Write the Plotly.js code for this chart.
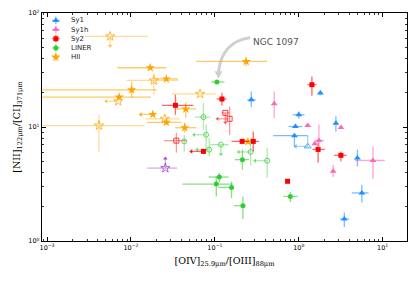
<!DOCTYPE html>
<html><head><meta charset="utf-8">
<script src="https://cdn.plot.ly/plotly-3.0.1.min.js"></script>
<style>html,body{margin:0;padding:0;background:#fff}#chart{width:415px;height:282px}</style>
</head><body><div id="chart"></div>
<script>
// ---------------- DATA ----------------
const categories = ['Sy1', 'Sy1h', 'Sy2', 'LINER', 'HII'];

// Sy1 (filled)
const sy1X   = [0.272, 1.81, 1.00, 0.912, 0.888, 2.77, 5.00, 5.65, 3.49];
const sy1Y   = [17.3, 19.9, 12.8, 10.1, 8.39, 10.8, 5.35, 2.64, 1.56];
const sy1XLo = [0.243, 1.72, 0.847, 0.758, 0.496, null, 4.85, 4.28, 3.09];
const sy1XHi = [0.307, 1.90, 1.17, 1.10, 1.28, null, 5.20, 6.78, 3.97];
const sy1YLo = [15.0, 19.0, 11.8, null, 6.76, 9.15, 4.51, 2.18, 1.33];
const sy1YHi = [20.5, 20.8, 13.7, null, null, 12.4, 6.33, 3.12, 1.78];
// Sy1 (open, limits)
const sy1oX   = [1.28];
const sy1oY   = [6.76];
const sy1oLim = ['<'];
const sy1oYLo = [null];
const sy1oYHi = [8.39];

// Sy1h
const sy1hX   = [0.510, 1.28, 3.18, 1.74, 1.55, 2.57, 7.66];
const sy1hY   = [16.0, 10.3, 9.9, 7.63, 7.14, 4.09, 5.09];
const sy1hXLo = [null, null, null, 1.55, null, null, 4.69];
const sy1hXHi = [null, null, null, 2.00, null, null, 10.6];
const sy1hYLo = [12.0, null, null, 6.58, null, 3.64, 3.50];
const sy1hYHi = [20.5, null, null, 10.5, null, 4.67, 6.76];

// Sy2 (filled)
const sy2X   = [0.0339, 0.1215, 0.0731, 0.2115, 0.287, 1.435, 1.70, 3.18, 0.736];
const sy2Y   = [15.5, 17.6, 6.11, 7.48, 7.48, 23.5, 6.36, 5.64, 3.34];
const sy2Lim = ['', '', '<', '', '', '', '', '', ''];
const sy2XLo = [0.0234, 0.105, null, 0.158, null, 1.27, 1.46, 2.64, null];
const sy2XHi = [0.0554, 0.138, null, 0.255, 0.336, 1.62, 2.04, 3.72, null];
const sy2YLo = [12.8, 15.4, null, null, 6.11, 18.8, 4.86, 4.99, null];
const sy2YHi = [19.2, 20.0, null, null, 9.15, 27.8, 7.28, 6.11, null];
// Sy2 (open)
const sy2oX   = [0.1334, 0.150, 0.0348];
const sy2oY   = [13.3, 11.8, 7.59];
const sy2oLim = ['v', '<', ''];
const sy2oXLo = [0.120, null, 0.0248];
const sy2oXHi = [0.148, null, 0.046];
const sy2oYLo = [null, 8.55, 5.96];
const sy2oYHi = [null, 15.1, 8.9];

// LINER (filled)
const linX   = [0.1057, 0.213, 0.113, 0.104, 0.158, 0.216, 0.794];
const linY   = [24.8, 5.17, 3.64, 3.16, 2.95, 2.04, 2.46];
const linXLo = [0.0905, 0.173, 0.084, 0.0411, 0.109, 0.168, 0.654];
const linXHi = [0.130, 0.255, 0.146, 0.163, 0.168, 0.232, 0.972];
const linYLo = [null, 4.22, 3.27, 2.46, 2.38, 1.56, 2.20];
const linYHi = [null, 6.33, 3.94, 3.69, 3.33, 2.46, 2.69];
// LINER (open)
const linoX   = [0.0731, 0.0788, 0.0432, 0.0857, 0.118, 0.267, 0.420];
const linoY   = [12.2, 8.55, 7.48, 6.33, 7.0, 6.04, 5.06];
const linoLim = ['', '<', '', '<', 'v', '<', '<'];
const linoXLo = [0.058, null, null, null, 0.088, null, null];
const linoXHi = [0.088, null, null, null, 0.146, null, null];
const linoYLo = [9.47, 6.0, 6.11, 5.5, null, 4.58, 3.59];
const linoYHi = [16.2, 10.5, 8.55, 8.0, null, 8.06, 6.58];

// HII (filled)
const hiiX   = [0.0170, 0.0264, 0.0102, 0.00725, 0.01825, 0.0264, 0.0450, 0.0438, 0.236, 0.248];
const hiiY   = [33.1, 26.4, 21.2, 18.3, 12.9, 11.0, 14.4, 9.86, 37.6, 7.43];
const hiiLim = ['', '', '', '', '<', '', '', '', '', ''];
const hiiXLo = [0.0069, 0.0193, 0.0007, 0.0007, null, 0.0155, 0.035, 0.0336, 0.060, null];
const hiiXHi = [0.0262, 0.0365, 0.0204, 0.0173, null, 0.040, 0.060, 0.0602, 0.42, null];
const hiiYLo = [null, null, 18.1, null, null, null, 12.0, 8.9, 34.0, null];
const hiiYHi = [null, null, 24.9, null, null, null, 16.5, 10.9, 41.0, null];
// HII (open)
const hiioX   = [0.00565, 0.01876, 0.00705, 0.00416, 0.0253, 0.0667];
const hiioY   = [62.4, 25.6, 16.8, 10.3, 11.8, 19.5];
const hiioLim = ['v', '', '<', '', '', ''];
const hiioXLo = [0.00284, 0.00888, null, 0.0007, 0.0150, 0.0309];
const hiioXHi = [0.0159, 0.0365, null, 0.0142, 0.038, 0.102];
const hiioYLo = [null, 19.2, null, 5.96, null, null];
const hiioYHi = [null, 29.9, null, 12.8, null, null];

// Unclassified (purple)
const othX   = [0.0257];
const othY   = [4.36];
const othLim = ['^'];
const othXLo = [0.0156];
const othXHi = [0.0355];

const xTickVals = [0.001, 0.01, 0.1, 1, 10];
const xTickText = ['10<sup>−3</sup>', '10<sup>−2</sup>', '10<sup>−1</sup>', '10<sup>0</sup>', '10<sup>1</sup>'];
const yTickVals = [1, 10, 100];
const yTickText = ['10<sup>0</sup>', '10<sup>1</sup>', '10<sup>2</sup>'];

// ---------------- STYLE ----------------
const X_RANGE = [-3.06, 1.29], Y_RANGE = [0, 2];
const COL = {Sy1:'30,144,255', Sy1h:'255,105,180', Sy2:'255,0,0', LINER:'50,205,50', HII:'255,165,0', other:'153,50,204'};
const SYM = {Sy1:'triangle-up', Sy1h:'triangle-up', Sy2:'square', LINER:'circle', HII:'star', other:'star'};
const SIZE = {Sy1:6, Sy1h:6, Sy2:5, LINER:5, HII:7, other:7};
const ARROW_X = 0.145, ARROW_Y = 0.085;  // arrow length in decades

function tipOf(v, l, axis) {
  if (axis === 'x' && l === '<') return v * Math.pow(10, -ARROW_X);
  if (axis === 'y' && l === 'v') return v * Math.pow(10, -ARROW_Y);
  if (axis === 'y' && l === '^') return v * Math.pow(10, ARROW_Y);
  return null;
}
function errs(v, lo, hi, lim, axis) {
  const plus = v.map((x, i) => {
    const t = lim ? tipOf(x, lim[i], axis) : null;
    if (t != null && t > x) return t - x;
    return (hi && hi[i] != null) ? hi[i] - x : 0;
  });
  const minus = v.map((x, i) => {
    const t = lim ? tipOf(x, lim[i], axis) : null;
    if (t != null && t < x) return x - t;
    return (lo && lo[i] != null) ? x - lo[i] : 0;
  });
  return {plus, minus};
}
function trace(cat, open, x, y, xlo, xhi, ylo, yhi, lim, colOverride) {
  const c = colOverride || COL[cat];
  const ex = errs(x, xlo, xhi, lim, 'x'), ey = errs(y, ylo, yhi, lim, 'y');
  const barA = open ? 0.4 : 0.6;
  return {
    type: 'scatter', mode: 'markers', x, y, showlegend: false, hoverinfo: 'skip',
    marker: {symbol: SYM[cat] + (open ? '-open' : ''), size: SIZE[cat],
      color: `rgba(${c},${open ? 0.75 : 1})`, line: {width: open ? 1 : 0, color: `rgba(${c},${open ? 0.75 : 1})`}},
    error_x: {type: 'data', symmetric: false, array: ex.plus, arrayminus: ex.minus, color: `rgba(${c},${barA})`, thickness: 1.3, width: 0},
    error_y: {type: 'data', symmetric: false, array: ey.plus, arrayminus: ey.minus, color: `rgba(${c},${barA})`, thickness: 1.3, width: 0}
  };
}
function heads(cat, open, x, y, lim, colOverride) {
  const c = colOverride || COL[cat];
  const hx = [], hy = [], sym = [];
  x.forEach((v, i) => {
    const l = lim[i]; if (!l) return;
    const tx = tipOf(v, l, 'x'), ty = tipOf(y[i], l, 'y');
    hx.push(tx != null ? tx : v); hy.push(ty != null ? ty : y[i]);
    sym.push(l === '<' ? 'triangle-left' : (l === 'v' ? 'triangle-down' : 'triangle-up'));
  });
  return {type: 'scatter', mode: 'markers', x: hx, y: hy, showlegend: false, hoverinfo: 'skip',
    marker: {symbol: sym, size: 4, color: `rgba(${c},${open ? 0.6 : 0.9})`, line: {width: 0}}};
}

const PURPLE = COL.other;
const data = [
  trace('HII', true, hiioX, hiioY, hiioXLo, hiioXHi, hiioYLo, hiioYHi, hiioLim),
  heads('HII', true, hiioX, hiioY, hiioLim),
  trace('HII', false, hiiX, hiiY, hiiXLo, hiiXHi, hiiYLo, hiiYHi, hiiLim),
  heads('HII', false, hiiX, hiiY, hiiLim),
  trace('LINER', true, linoX, linoY, linoXLo, linoXHi, linoYLo, linoYHi, linoLim),
  heads('LINER', true, linoX, linoY, linoLim),
  trace('LINER', false, linX, linY, linXLo, linXHi, linYLo, linYHi, null),
  trace('other', true, othX, othY, othXLo, othXHi, null, null, othLim, PURPLE),
  heads('other', false, othX, othY, othLim, PURPLE),
  trace('Sy2', true, sy2oX, sy2oY, sy2oXLo, sy2oXHi, sy2oYLo, sy2oYHi, sy2oLim),
  heads('Sy2', true, sy2oX, sy2oY, sy2oLim),
  trace('Sy2', false, sy2X, sy2Y, sy2XLo, sy2XHi, sy2YLo, sy2YHi, sy2Lim),
  heads('Sy2', false, sy2X, sy2Y, sy2Lim),
  trace('Sy1h', false, sy1hX, sy1hY, sy1hXLo, sy1hXHi, sy1hYLo, sy1hYHi, null),
  trace('Sy1', true, sy1oX, sy1oY, null, null, sy1oYLo, sy1oYHi, sy1oLim),
  heads('Sy1', true, sy1oX, sy1oY, sy1oLim),
  trace('Sy1', false, sy1X, sy1Y, sy1XLo, sy1XHi, sy1YLo, sy1YHi, null)
];

const annotations = [];
// manual legend, placed in plot-fraction units converted through the axis ranges
const LEG_X = 0.038, LEG_Y0 = 0.9675, LEG_DY = 0.0402, LEG_EX = 0.011, LEG_EY = 0.017;
const fx = f => Math.pow(10, X_RANGE[0] + f * (X_RANGE[1] - X_RANGE[0]));
const fy = f => Math.pow(10, Y_RANGE[0] + f * (Y_RANGE[1] - Y_RANGE[0]));
categories.forEach((cat, i) => {
  const c = COL[cat];
  const yf = LEG_Y0 - i * LEG_DY;
  const x0 = fx(LEG_X), y0 = fy(yf);
  data.push({type: 'scatter', mode: 'markers', x: [x0], y: [y0],
    showlegend: false, hoverinfo: 'skip',
    marker: {symbol: SYM[cat], size: SIZE[cat], color: `rgb(${c})`},
    error_x: {type: 'data', symmetric: false, array: [fx(LEG_X + LEG_EX) - x0], arrayminus: [x0 - fx(LEG_X - LEG_EX)], color: `rgba(${c},0.6)`, thickness: 1.2, width: 0},
    error_y: {type: 'data', symmetric: false, array: [fy(yf + LEG_EY) - y0], arrayminus: [y0 - fy(yf - LEG_EY)], color: `rgba(${c},0.6)`, thickness: 1.2, width: 0}});
  annotations.push({xref: 'paper', yref: 'paper', x: 0.073, y: yf, xanchor: 'left', yanchor: 'middle',
    text: cat, showarrow: false, font: {family: 'DejaVu Sans', size: 7, color: '#222'}});
});

// NGC 1097 label
annotations.push({xref: 'paper', yref: 'paper', x: 0.640, y: 0.905, text: 'NGC 1097', showarrow: false,
  font: {family: 'DejaVu Sans', size: 9, color: '#555'}});

const axisCommon = {
  type: 'log', showline: true, linecolor: '#000', linewidth: 1.2, mirror: 'ticks',
  ticks: 'inside', ticklen: 4, tickwidth: 1, tickcolor: '#000', showgrid: false, zeroline: false,
  tickmode: 'array', tickfont: {family: 'DejaVu Sans', size: 6.5, color: '#000'},
  minor: {ticks: 'inside', ticklen: 2, tickwidth: 0.8, tickcolor: '#000', dtick: 'D1', showgrid: false}
};

const layout = {
  width: 415, height: 282, margin: {l: 42, r: 8, t: 13, b: 41},
  paper_bgcolor: '#fff', plot_bgcolor: '#fff', showlegend: false,
  xaxis: Object.assign({}, axisCommon, {range: X_RANGE, tickvals: xTickVals, ticktext: xTickText,
    title: {text: '[OIV]<sub>25.9μm</sub>/[OIII]<sub>88μm</sub>', font: {family: 'DejaVu Serif', size: 9.5, color: '#000'}, standoff: 6}}),
  yaxis: Object.assign({}, axisCommon, {range: Y_RANGE, tickvals: yTickVals, ticktext: yTickText,
    title: {text: '[NII]<sub>122μm</sub>/[CI]<sub>371μm</sub>', font: {family: 'DejaVu Serif', size: 9.5, color: '#000'}, standoff: 6}}),
  shapes: [
    {type: 'path', xref: 'paper', yref: 'paper', layer: 'below',
     path: 'M 0.570 0.892 Q 0.493 0.874 0.4836 0.742', line: {color: '#cfcfcf', width: 3}},
    {type: 'path', xref: 'paper', yref: 'paper', layer: 'below',
     path: 'M 0.4726 0.745 L 0.4946 0.745 L 0.4836 0.712 Z', fillcolor: '#cfcfcf', line: {width: 0}}
  ],
  annotations
};

Plotly.newPlot('chart', data, layout, {displayModeBar: false, staticPlot: true});
</script></body></html>
